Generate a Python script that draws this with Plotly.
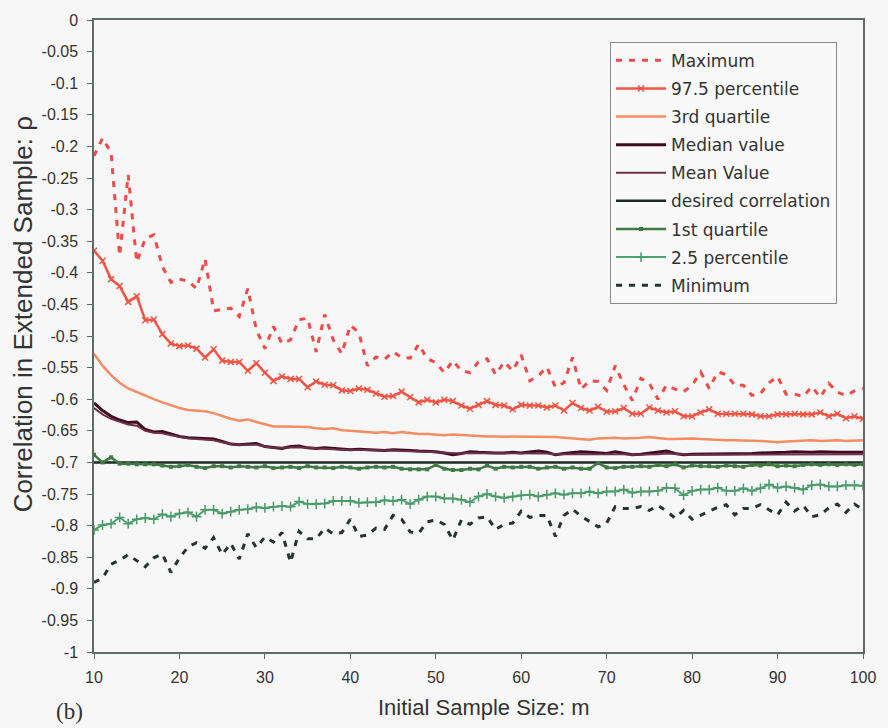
import plotly.graph_objects as go

m = list(range(10, 101))

maximum = [-0.215, -0.187, -0.21, -0.373, -0.245, -0.383, -0.346, -0.34, -0.39, -0.415,
           -0.41, -0.413, -0.425, -0.378, -0.46, -0.458, -0.456, -0.469, -0.425, -0.49,
           -0.52, -0.485, -0.512, -0.506, -0.474, -0.472, -0.525, -0.466, -0.506, -0.528,
           -0.483, -0.495, -0.547, -0.533, -0.537, -0.525, -0.534, -0.535, -0.513, -0.536,
           -0.542, -0.558, -0.539, -0.555, -0.558, -0.541, -0.536, -0.561, -0.541, -0.555,
           -0.53, -0.571, -0.563, -0.549, -0.581, -0.574, -0.534, -0.584, -0.571, -0.572,
           -0.586, -0.547, -0.577, -0.602, -0.567, -0.575, -0.6, -0.578, -0.584, -0.588,
           -0.578, -0.557, -0.583, -0.557, -0.561, -0.578, -0.578, -0.594, -0.591, -0.574,
           -0.564, -0.592, -0.592, -0.596, -0.58, -0.597, -0.575, -0.589, -0.594, -0.587,
           -0.583]

p975 = [-0.365, -0.381, -0.41, -0.421, -0.446, -0.437, -0.475, -0.474, -0.497, -0.512,
        -0.516, -0.515, -0.52, -0.534, -0.521, -0.539, -0.541, -0.541, -0.555, -0.543,
        -0.558, -0.571, -0.564, -0.568, -0.568, -0.581, -0.572, -0.577, -0.578, -0.586,
        -0.587, -0.583, -0.585, -0.591, -0.596, -0.595, -0.588, -0.597, -0.605, -0.601,
        -0.605, -0.601, -0.603, -0.61, -0.615, -0.609, -0.603, -0.609, -0.61, -0.616,
        -0.609, -0.61, -0.61, -0.613, -0.61, -0.618, -0.606, -0.614, -0.618, -0.612,
        -0.62, -0.619, -0.614, -0.623, -0.623, -0.613, -0.618, -0.621, -0.619, -0.627,
        -0.627, -0.621, -0.616, -0.623, -0.623, -0.623, -0.623, -0.624, -0.627, -0.627,
        -0.624, -0.624, -0.623, -0.624, -0.624, -0.621, -0.627, -0.623, -0.63, -0.627,
        -0.631]

q3 = [-0.528, -0.547, -0.562, -0.574, -0.583, -0.589, -0.594, -0.6, -0.605, -0.61,
      -0.614, -0.617, -0.618, -0.619, -0.622, -0.627, -0.631, -0.634, -0.632, -0.636,
      -0.64, -0.643, -0.643, -0.643, -0.644, -0.644, -0.646, -0.647, -0.646, -0.649,
      -0.65, -0.651, -0.651, -0.653, -0.652, -0.654, -0.652, -0.654, -0.655, -0.655,
      -0.656, -0.657, -0.656, -0.657, -0.658, -0.658, -0.659, -0.659, -0.659, -0.66,
      -0.66, -0.659, -0.66, -0.659, -0.66, -0.661, -0.662, -0.664, -0.664, -0.662,
      -0.661, -0.661, -0.662, -0.662, -0.661, -0.66, -0.662, -0.663, -0.663, -0.662,
      -0.662, -0.663, -0.664, -0.664, -0.665, -0.665, -0.665, -0.666, -0.666, -0.667,
      -0.668, -0.667, -0.666, -0.665, -0.665, -0.666, -0.665, -0.665, -0.666, -0.665,
      -0.665]

median = [-0.606, -0.618, -0.627, -0.633, -0.637, -0.636, -0.648, -0.652, -0.651, -0.655,
          -0.659, -0.661, -0.662, -0.662, -0.663, -0.667, -0.671, -0.672, -0.671, -0.67,
          -0.675, -0.677, -0.678, -0.675, -0.674, -0.677, -0.678, -0.677, -0.678, -0.68,
          -0.68, -0.679, -0.68, -0.68, -0.681, -0.68, -0.68, -0.681, -0.682, -0.682,
          -0.683, -0.685, -0.688, -0.686, -0.683, -0.684, -0.685, -0.685, -0.685, -0.684,
          -0.685, -0.684, -0.682, -0.684, -0.688, -0.686, -0.684, -0.683, -0.684, -0.685,
          -0.686, -0.683, -0.686, -0.688, -0.687, -0.685, -0.684, -0.682, -0.686, -0.688,
          -0.687, -0.687, -0.686, -0.686, -0.686, -0.687, -0.687, -0.686, -0.685, -0.685,
          -0.684, -0.684, -0.683, -0.684, -0.684, -0.683, -0.684, -0.684, -0.684, -0.684,
          -0.684]

mean = [-0.614, -0.624, -0.631, -0.636, -0.64, -0.642, -0.65, -0.653, -0.654, -0.657,
        -0.66, -0.662, -0.663, -0.664, -0.665, -0.668, -0.671, -0.672, -0.672, -0.672,
        -0.675, -0.677, -0.677, -0.676, -0.676, -0.677, -0.678, -0.678, -0.679, -0.68,
        -0.68, -0.68, -0.681, -0.681, -0.681, -0.681, -0.682, -0.682, -0.683, -0.683,
        -0.684, -0.685, -0.686, -0.686, -0.685, -0.685, -0.686, -0.686, -0.686, -0.686,
        -0.686, -0.686, -0.685, -0.686, -0.687, -0.687, -0.686, -0.686, -0.686, -0.687,
        -0.687, -0.686, -0.687, -0.688, -0.688, -0.687, -0.687, -0.686, -0.687, -0.688,
        -0.688, -0.688, -0.688, -0.688, -0.688, -0.688, -0.688, -0.688, -0.687, -0.687,
        -0.687, -0.687, -0.687, -0.687, -0.687, -0.687, -0.687, -0.687, -0.687, -0.687,
        -0.687]

desired = [-0.7] * len(m)

q1 = [-0.688, -0.7, -0.692, -0.702, -0.702, -0.703, -0.703, -0.703, -0.705, -0.707,
      -0.706, -0.704, -0.707, -0.709, -0.706, -0.706, -0.708, -0.706, -0.707, -0.708,
      -0.706, -0.709, -0.708, -0.707, -0.709, -0.706, -0.708, -0.708, -0.709, -0.707,
      -0.708, -0.71, -0.708, -0.707, -0.708, -0.707, -0.71, -0.711, -0.711, -0.711,
      -0.704, -0.71, -0.712, -0.712, -0.71, -0.711, -0.705, -0.71, -0.707, -0.708,
      -0.707, -0.707, -0.71, -0.708, -0.707, -0.71, -0.708, -0.71, -0.71, -0.701,
      -0.708, -0.709, -0.707, -0.707, -0.706, -0.707, -0.704, -0.706, -0.703, -0.708,
      -0.705, -0.706, -0.706, -0.707, -0.705, -0.706, -0.707, -0.704, -0.705, -0.703,
      -0.706, -0.705, -0.706, -0.704, -0.703, -0.704, -0.703, -0.704, -0.703, -0.704,
      -0.703]

p025 = [-0.807, -0.799, -0.797, -0.787, -0.797, -0.79, -0.788, -0.79, -0.782, -0.786,
        -0.781, -0.779, -0.786, -0.775, -0.775, -0.781, -0.778, -0.775, -0.774, -0.771,
        -0.772, -0.77, -0.769, -0.77, -0.762, -0.766, -0.766, -0.765, -0.761, -0.761,
        -0.761, -0.764, -0.763, -0.763, -0.76, -0.761, -0.759, -0.766, -0.759, -0.754,
        -0.754, -0.757, -0.757, -0.759, -0.763, -0.754, -0.75, -0.754, -0.756, -0.754,
        -0.752, -0.751, -0.754, -0.751, -0.749, -0.751, -0.749, -0.749, -0.746, -0.749,
        -0.746, -0.746, -0.743, -0.748, -0.746, -0.746, -0.745, -0.74, -0.741, -0.752,
        -0.745, -0.743, -0.743, -0.74, -0.745, -0.745, -0.741, -0.745, -0.741, -0.735,
        -0.74, -0.738, -0.74, -0.743, -0.736, -0.735, -0.738, -0.738, -0.736, -0.736,
        -0.737]

minimum = [-0.89, -0.883, -0.861, -0.855, -0.846, -0.855, -0.865, -0.851, -0.845, -0.874,
           -0.851, -0.834, -0.827, -0.836, -0.819, -0.846, -0.828, -0.853, -0.813, -0.835,
           -0.818, -0.826, -0.811, -0.858, -0.809, -0.821, -0.821, -0.804, -0.813, -0.811,
           -0.79, -0.817, -0.815, -0.804, -0.806, -0.784, -0.79, -0.81, -0.812, -0.794,
           -0.791, -0.798, -0.823, -0.791, -0.798, -0.788, -0.786, -0.806, -0.798, -0.796,
           -0.777, -0.787, -0.784, -0.784, -0.817, -0.784, -0.774, -0.785, -0.794, -0.802,
           -0.796, -0.77, -0.773, -0.773, -0.77, -0.776, -0.768, -0.777, -0.788, -0.776,
           -0.79, -0.784, -0.777, -0.771, -0.767, -0.783, -0.773, -0.773, -0.767, -0.775,
           -0.783, -0.763, -0.777, -0.768, -0.786, -0.783, -0.772, -0.766, -0.779, -0.766,
           -0.775]

series_names = ["Maximum", "97.5 percentile", "3rd quartile", "Median value", "Mean Value",
                "desired correlation", "1st quartile", "2.5 percentile", "Minimum"]

y_tickvals = [-i * 0.05 for i in range(21)]
y_ticktext = ["0", "-0.05", "-0.1", "-0.15", "-0.2", "-0.25", "-0.3", "-0.35", "-0.4", "-0.45",
              "-0.5", "-0.55", "-0.6", "-0.65", "-0.7", "-0.75", "-0.8", "-0.85", "-0.9", "-0.95", "-1"]
x_tickvals = [10, 20, 30, 40, 50, 60, 70, 80, 90, 100]

styles = [
    dict(data=maximum, line=dict(color="#f24a48", width=3, dash="6px,7px"), mode="lines"),
    dict(data=p975, line=dict(color="#f25444", width=2.5), mode="lines+markers",
         marker=dict(symbol="x-thin", size=6, line=dict(color="#f25444", width=1.5))),
    dict(data=q3, line=dict(color="#f58c62", width=2.5), mode="lines"),
    dict(data=median, line=dict(color="#3c0c1e", width=3), mode="lines"),
    dict(data=mean, line=dict(color="#6e3048", width=2), mode="lines"),
    dict(data=desired, line=dict(color="#1e2a24", width=2.5), mode="lines"),
    dict(data=q1, line=dict(color="#3f7a42", width=2.5), mode="lines+markers",
         marker=dict(symbol="square", size=4, color="#3f7a42")),
    dict(data=p025, line=dict(color="#4ca270", width=2), mode="lines+markers",
         marker=dict(symbol="cross-thin", size=7, line=dict(color="#4a9a6a", width=1.5))),
    dict(data=minimum, line=dict(color="#26352c", width=3, dash="6px,7px"), mode="lines"),
]

fig = go.Figure()
for i, (name, st) in enumerate(zip(series_names, styles)):
    kw = dict(x=m, y=st["data"], name=name, mode=st["mode"], line=st["line"],
              legendgroup="g%d" % i)
    if "marker" in st:
        kw["marker"] = st["marker"]
    fig.add_trace(go.Scatter(**kw))

axis_col = "#5f6b64"
fig.update_layout(
    width=888, height=728,
    margin=dict(l=94, r=16, t=14, b=76),
    paper_bgcolor="#f7f7f7", plot_bgcolor="#f7f7f7",
    font=dict(family="Arial, Liberation Sans, sans-serif", color="#333333"),
    showlegend=True,
    legend=dict(x=0.671, y=0.9655, xanchor="left", yanchor="top",
                bgcolor="#f9f9f9", bordercolor="#8a8a8a", borderwidth=1,
                font=dict(size=17, color="#333333", family="DejaVu Sans, sans-serif"),
                itemwidth=50, traceorder="grouped", tracegroupgap=3),
    xaxis=dict(range=[10, 100], tickvals=x_tickvals, ticks="outside", ticklen=5,
               tickcolor=axis_col, showline=True, linecolor=axis_col, linewidth=1.5,
               mirror=True, showgrid=False, zeroline=False, ticklabelstandoff=5,
               tickfont=dict(size=16, color="#333333")),
    yaxis=dict(range=[-1, 0], tickvals=y_tickvals, ticktext=y_ticktext, ticks="outside",
               ticklen=5, tickcolor=axis_col, showline=True, linecolor=axis_col,
               linewidth=1.5, mirror=True, showgrid=False, zeroline=False,
               ticklabelstandoff=6, tickfont=dict(size=16, color="#333333")),
    annotations=[
        dict(text="Initial Sample Size: m", xref="paper", yref="paper",
             x=0.507, y=-0.088, xanchor="center", yanchor="middle", showarrow=False,
             font=dict(size=22, color="#333333")),
        dict(text="Correlation in Extended Sample: ρ", xref="paper", yref="paper",
             x=-0.093, y=0.535, xanchor="center", yanchor="middle", showarrow=False,
             textangle=-90, font=dict(size=26, color="#333333")),
        dict(text="(b)", xref="paper", yref="paper", x=-0.052, y=-0.094,
             xanchor="left", yanchor="middle", showarrow=False,
             font=dict(size=23, family="Liberation Serif, Times New Roman, serif",
                       color="#333333")),
    ],
)

fig.write_html("out.html", config={"displayModeBar": False},
               post_script="document.body.style.margin='0px';document.body.style.overflow='hidden';")
